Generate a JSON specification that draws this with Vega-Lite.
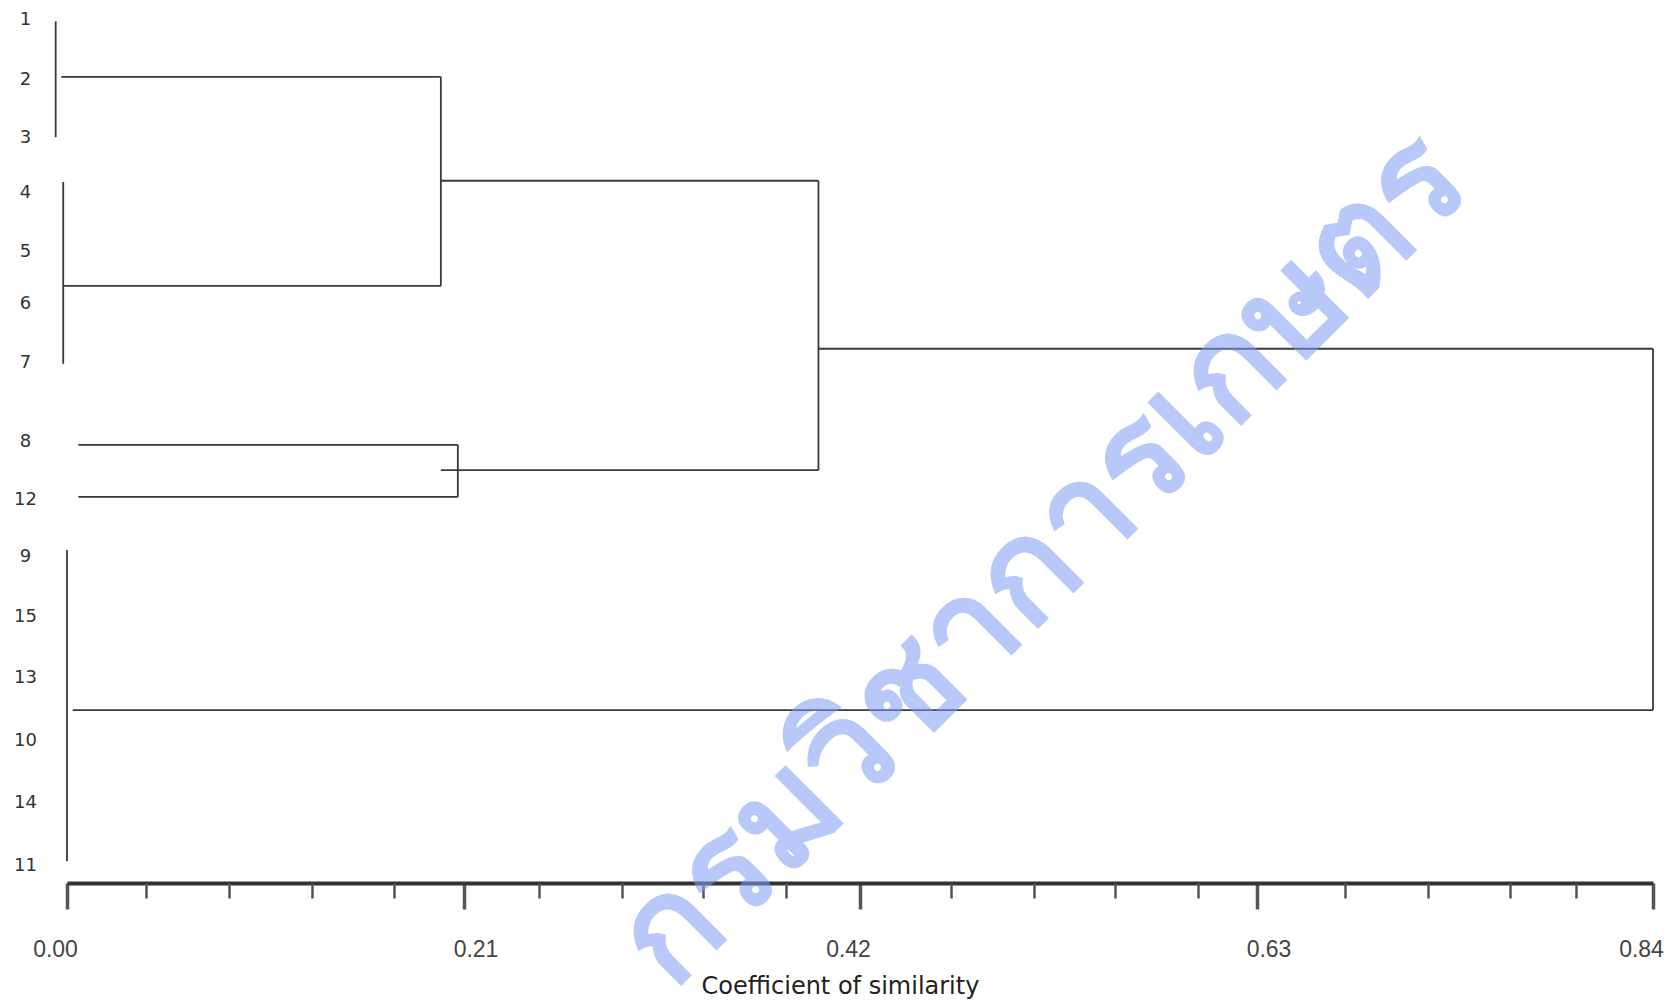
{
  "$schema": "https://vega.github.io/schema/vega-lite/v6.json",
  "width": 1586,
  "height": 883,
  "autosize": {"type": "none"},
  "padding": {"left": 67, "top": 0, "right": 20, "bottom": 121},
  "background": "white",
  "config": {"view": {"stroke": null}},
  "datasets": {
    "segments": [
      {"part": "group 1-3", "x1": -0.006, "x2": -0.006, "y1": 1.02, "y2": 2.94},
      {"part": "group 1-3 link", "x1": -0.003, "x2": 0.198, "y1": 1.94, "y2": 1.94},
      {"part": "node A", "x1": 0.198, "x2": 0.198, "y1": 1.94, "y2": 5.40},
      {"part": "group 4-7 link", "x1": -0.002, "x2": 0.198, "y1": 5.40, "y2": 5.40},
      {"part": "group 4-7", "x1": -0.002, "x2": -0.002, "y1": 3.68, "y2": 6.69},
      {"part": "node A link", "x1": 0.198, "x2": 0.398, "y1": 3.66, "y2": 3.66},
      {"part": "leaf 8", "x1": 0.006, "x2": 0.207, "y1": 8.03, "y2": 8.03},
      {"part": "leaf 12", "x1": 0.006, "x2": 0.207, "y1": 8.89, "y2": 8.89},
      {"part": "node 8-12", "x1": 0.207, "x2": 0.207, "y1": 8.03, "y2": 8.89},
      {"part": "node 8-12 link", "x1": 0.198, "x2": 0.398, "y1": 8.45, "y2": 8.45},
      {"part": "node B", "x1": 0.398, "x2": 0.398, "y1": 3.66, "y2": 8.45},
      {"part": "node B link", "x1": 0.398, "x2": 0.84, "y1": 6.44, "y2": 6.44},
      {"part": "root", "x1": 0.84, "x2": 0.84, "y1": 6.44, "y2": 12.42},
      {"part": "group 9-11 link", "x1": 0.003, "x2": 0.84, "y1": 12.42, "y2": 12.42},
      {"part": "group 9-11", "x1": 0.0, "x2": 0.0, "y1": 9.77, "y2": 14.92}
    ],
    "leaves": [
      {"label": "1", "r": 1.00},
      {"label": "2", "r": 1.99},
      {"label": "3", "r": 2.95},
      {"label": "4", "r": 3.86},
      {"label": "5", "r": 4.84},
      {"label": "6", "r": 5.70},
      {"label": "7", "r": 6.68},
      {"label": "8", "r": 7.98},
      {"label": "12", "r": 8.94},
      {"label": "9", "r": 9.89},
      {"label": "15", "r": 10.88},
      {"label": "13", "r": 11.89},
      {"label": "10", "r": 12.93},
      {"label": "14", "r": 13.96},
      {"label": "11", "r": 15.00}
    ],
    "watermark": [
      {"text": "กรมวิชาการเกษตร", "x": 0.517, "r": 9.95}
    ]
  },
  "layer": [
    {
      "data": {"name": "segments"},
      "mark": {"type": "rule", "color": "#3a3a3a", "strokeWidth": 1.8},
      "encoding": {
        "x": {
          "field": "x1", "type": "quantitative",
          "scale": {"domain": [0, 0.84], "nice": false, "zero": false},
          "axis": {
            "orient": "bottom",
            "values": [0, 0.21, 0.42, 0.63, 0.84],
            "format": ".2f",
            "grid": false,
            "domain": true, "domainColor": "#333333", "domainWidth": 4,
            "ticks": true, "tickColor": "#555555", "tickWidth": 3.5, "tickSize": 26,
            "labelFont": "Liberation Sans", "labelFontSize": 23, "labelColor": "#444444",
            "labelPadding": 29, "labelFlush": false,
            "labelOffset": {"expr": "datum.value == 0 || datum.value == 0.42 || datum.value == 0.84 ? -12 : 12"},
            "title": "Coefficient of similarity",
            "titleFont": "DejaVu Sans", "titleFontSize": 24, "titleFontWeight": "normal",
            "titleColor": "#222222", "titlePadding": 13, "titleX": 773
          }
        },
        "x2": {"field": "x2"},
        "y": {
          "field": "y1", "type": "quantitative",
          "scale": {"domain": [0.669, 15.281], "nice": false, "zero": false, "reverse": true},
          "axis": null
        },
        "y2": {"field": "y2"}
      }
    },
    {
      "data": {"name": "leaves"},
      "mark": {"type": "text", "font": "DejaVu Sans", "fontSize": 18, "color": "#333333", "align": "center", "baseline": "middle"},
      "encoding": {
        "x": {
          "datum": -0.022, "type": "quantitative",
          "axis": {
            "orient": "bottom",
            "values": [0.042, 0.086, 0.13, 0.173, 0.25, 0.294, 0.337, 0.381, 0.468, 0.512, 0.555, 0.599, 0.677, 0.721, 0.764, 0.799],
            "grid": false, "domain": false, "labels": false, "title": null,
            "ticks": true, "tickColor": "#555555", "tickWidth": 2.5, "tickSize": 15
          }
        },
        "y": {"field": "r", "type": "quantitative", "axis": null},
        "text": {"field": "label"}
      }
    },
    {
      "data": {"name": "watermark"},
      "mark": {"type": "text", "font": "Noto Sans", "fontSize": 140, "fontWeight": "bold", "color": "#7f9cf5", "opacity": 0.55, "angle": -45, "align": "center", "baseline": "middle"},
      "encoding": {
        "x": {"field": "x", "type": "quantitative", "axis": null},
        "y": {"field": "r", "type": "quantitative", "axis": null},
        "text": {"field": "text"}
      }
    }
  ],
  "resolve": {"axis": {"x": "independent"}}
}
